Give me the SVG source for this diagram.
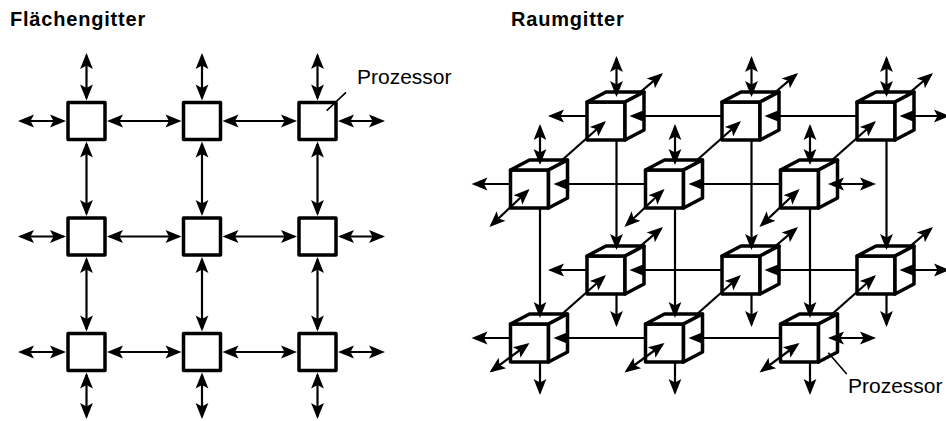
<svg xmlns="http://www.w3.org/2000/svg" width="946" height="421" viewBox="0 0 946 421">
<defs>
<style>
.title{font-family:"Liberation Sans",Arial,sans-serif;font-weight:bold;font-size:20px;letter-spacing:0.8px;fill:#000}
.label{font-family:"Liberation Sans",Arial,sans-serif;font-size:21px;fill:#000}
.box{fill:#fff;stroke:#000;stroke-width:3.5;stroke-linejoin:round}
.c line{stroke:#000;stroke-width:2.2;fill:none}
.dbl{marker-start:url(#ah);marker-end:url(#ah)}
.end{marker-end:url(#ah)}
.start{marker-start:url(#ah)}
.lead{stroke:#000;stroke-width:1.6}
</style>
<marker id="ah" viewBox="-15 -8 18 16" markerWidth="18" markerHeight="16" refX="0" refY="0" orient="auto-start-reverse" markerUnits="userSpaceOnUse" overflow="visible">
<path d="M2.5,0 L-13.5,-6.4 L-10,0 L-13.5,6.4 Z" fill="#000"/>
</marker>
<g id="cube" fill="#fff" stroke="#000" stroke-width="3.5" stroke-linejoin="round">
<rect x="-19" y="-19" width="38" height="38"/>
<path d="M-19,-19 L0,-29 L38,-29 L19,-19 Z"/>
<path d="M19,-19 L38,-29 L38,9 L19,19 Z"/>
</g>
</defs>
<rect width="946" height="421" fill="#fff"/>

<text class="title" x="10" y="26">Flächengitter</text>
<text class="title" x="511" y="26">Raumgitter</text>

<!-- 2D grid connectors -->
<g id="connectors-2d" class="c">
<line class="dbl" x1="20.5" y1="121" x2="63.5" y2="121"/>
<line class="dbl" x1="109.5" y1="121" x2="179" y2="121"/>
<line class="dbl" x1="225" y1="121" x2="294.5" y2="121"/>
<line class="dbl" x1="340.5" y1="121" x2="382.5" y2="121"/>
<line class="dbl" x1="20.5" y1="236.5" x2="63.5" y2="236.5"/>
<line class="dbl" x1="109.5" y1="236.5" x2="179" y2="236.5"/>
<line class="dbl" x1="225" y1="236.5" x2="294.5" y2="236.5"/>
<line class="dbl" x1="340.5" y1="236.5" x2="382.5" y2="236.5"/>
<line class="dbl" x1="20.5" y1="352" x2="63.5" y2="352"/>
<line class="dbl" x1="109.5" y1="352" x2="179" y2="352"/>
<line class="dbl" x1="225" y1="352" x2="294.5" y2="352"/>
<line class="dbl" x1="340.5" y1="352" x2="382.5" y2="352"/>
<line class="dbl" x1="86.5" y1="55.5" x2="86.5" y2="98"/>
<line class="dbl" x1="86.5" y1="144" x2="86.5" y2="213.5"/>
<line class="dbl" x1="86.5" y1="259.5" x2="86.5" y2="329"/>
<line class="dbl" x1="86.5" y1="375" x2="86.5" y2="416.5"/>
<line class="dbl" x1="202" y1="55.5" x2="202" y2="98"/>
<line class="dbl" x1="202" y1="144" x2="202" y2="213.5"/>
<line class="dbl" x1="202" y1="259.5" x2="202" y2="329"/>
<line class="dbl" x1="202" y1="375" x2="202" y2="416.5"/>
<line class="dbl" x1="317.5" y1="55.5" x2="317.5" y2="98"/>
<line class="dbl" x1="317.5" y1="144" x2="317.5" y2="213.5"/>
<line class="dbl" x1="317.5" y1="259.5" x2="317.5" y2="329"/>
<line class="dbl" x1="317.5" y1="375" x2="317.5" y2="416.5"/>
</g>

<!-- 2D nodes -->
<g id="sq-1-1"><rect class="box" x="68" y="102.5" width="37" height="37"/></g>
<g id="sq-1-2"><rect class="box" x="183.5" y="102.5" width="37" height="37"/></g>
<g id="sq-1-3"><rect class="box" x="299" y="102.5" width="37" height="37"/></g>
<g id="sq-2-1"><rect class="box" x="68" y="218" width="37" height="37"/></g>
<g id="sq-2-2"><rect class="box" x="183.5" y="218" width="37" height="37"/></g>
<g id="sq-2-3"><rect class="box" x="299" y="218" width="37" height="37"/></g>
<g id="sq-3-1"><rect class="box" x="68" y="333.5" width="37" height="37"/></g>
<g id="sq-3-2"><rect class="box" x="183.5" y="333.5" width="37" height="37"/></g>
<g id="sq-3-3"><rect class="box" x="299" y="333.5" width="37" height="37"/></g>

<g id="label-2d">
<line class="lead" x1="326.7" y1="110.7" x2="346" y2="92.3"/>
<text class="label" x="357" y="84">Prozessor</text>
</g>

<!-- 3D: depth segments behind back cubes -->
<g id="connectors-3d-back" class="c">
<line class="end" x1="606" y1="121" x2="661.1" y2="74.6"/>
<line class="end" x1="741" y1="121" x2="796.1" y2="74.6"/>
<line class="end" x1="876" y1="121" x2="931.1" y2="74.6"/>
<line class="end" x1="606" y1="275" x2="661.1" y2="228.6"/>
<line class="end" x1="741" y1="275" x2="796.1" y2="228.6"/>
<line class="end" x1="876" y1="275" x2="931.1" y2="228.6"/>
</g>

<!-- back cubes -->
<g id="cube-bt-1" transform="translate(606,121)"><use href="#cube"/></g>
<g id="cube-bt-2" transform="translate(741,121)"><use href="#cube"/></g>
<g id="cube-bt-3" transform="translate(876,121)"><use href="#cube"/></g>
<g id="cube-bb-1" transform="translate(606,275)"><use href="#cube"/></g>
<g id="cube-bb-2" transform="translate(741,275)"><use href="#cube"/></g>
<g id="cube-bb-3" transform="translate(876,275)"><use href="#cube"/></g>

<!-- depth links front->back -->
<g id="connectors-3d-mid" class="c">
<line class="end" x1="529.5" y1="189" x2="604.1" y2="122.7"/>
<line class="end" x1="664.5" y1="189" x2="739.1" y2="122.7"/>
<line class="end" x1="799.5" y1="189" x2="874.1" y2="122.7"/>
<line class="end" x1="529.5" y1="343" x2="604.1" y2="276.7"/>
<line class="end" x1="664.5" y1="343" x2="739.1" y2="276.7"/>
<line class="end" x1="799.5" y1="343" x2="874.1" y2="276.7"/>
</g>

<!-- front cubes -->
<g id="cube-ft-1" transform="translate(529.5,189)"><use href="#cube"/></g>
<g id="cube-ft-2" transform="translate(664.5,189)"><use href="#cube"/></g>
<g id="cube-ft-3" transform="translate(799.5,189)"><use href="#cube"/></g>
<g id="cube-fb-1" transform="translate(529.5,343)"><use href="#cube"/></g>
<g id="cube-fb-2" transform="translate(664.5,343)"><use href="#cube"/></g>
<g id="cube-fb-3" transform="translate(799.5,343)"><use href="#cube"/></g>

<!-- 3D connectors on top -->
<g id="connectors-3d" class="c">
<line class="dbl" x1="616.5" y1="58.5" x2="616.5" y2="94.5"/>
<line class="dbl" x1="751.5" y1="58.5" x2="751.5" y2="94.5"/>
<line class="dbl" x1="886.5" y1="58.5" x2="886.5" y2="94.5"/>
<line class="end" x1="616.5" y1="141" x2="616.5" y2="247.5"/>
<line class="end" x1="751.5" y1="141" x2="751.5" y2="247.5"/>
<line class="end" x1="886.5" y1="141" x2="886.5" y2="247.5"/>
<line class="end" x1="587" y1="116" x2="550.5" y2="116"/>
<line class="start" x1="632" y1="116" x2="722" y2="116"/>
<line class="start" x1="767" y1="116" x2="857" y2="116"/>
<line class="dbl" x1="902" y1="116" x2="947.5" y2="116"/>
<line class="end" x1="616.5" y1="295" x2="616.5" y2="324.5"/>
<line class="end" x1="751.5" y1="295" x2="751.5" y2="324.5"/>
<line class="end" x1="886.5" y1="295" x2="886.5" y2="324.5"/>
<line class="end" x1="587" y1="270" x2="550.5" y2="270"/>
<line class="start" x1="632" y1="270" x2="722" y2="270"/>
<line class="start" x1="767" y1="270" x2="857" y2="270"/>
<line class="dbl" x1="902" y1="270" x2="947.5" y2="270"/>
<line class="dbl" x1="540" y1="126.5" x2="540" y2="162.5"/>
<line class="dbl" x1="675" y1="126.5" x2="675" y2="162.5"/>
<line class="dbl" x1="810" y1="126.5" x2="810" y2="162.5"/>
<line class="end" x1="540" y1="209" x2="540" y2="315.5"/>
<line class="end" x1="675" y1="209" x2="675" y2="315.5"/>
<line class="end" x1="810" y1="209" x2="810" y2="315.5"/>
<line class="end" x1="510.5" y1="184" x2="474" y2="184"/>
<line class="start" x1="556" y1="184" x2="645.5" y2="184"/>
<line class="start" x1="691" y1="184" x2="780.5" y2="184"/>
<line class="dbl" x1="830.5" y1="184" x2="873.5" y2="184"/>
<line class="dbl" x1="491.3" y1="225.3" x2="527.7" y2="190.7"/>
<line class="dbl" x1="626.3" y1="225.3" x2="662.7" y2="190.7"/>
<line class="dbl" x1="761.3" y1="225.3" x2="797.7" y2="190.7"/>
<line class="end" x1="540" y1="363" x2="540" y2="392.5"/>
<line class="end" x1="675" y1="363" x2="675" y2="392.5"/>
<line class="end" x1="810" y1="363" x2="810" y2="392.5"/>
<line class="end" x1="510.5" y1="338" x2="474" y2="338"/>
<line class="start" x1="556" y1="338" x2="645.5" y2="338"/>
<line class="start" x1="691" y1="338" x2="780.5" y2="338"/>
<line class="dbl" x1="830.5" y1="338" x2="873.5" y2="338"/>
<line class="dbl" x1="491.5" y1="371" x2="527.5" y2="344.5"/>
<line class="dbl" x1="626.5" y1="371" x2="662.5" y2="344.5"/>
<line class="dbl" x1="761.5" y1="371" x2="797.5" y2="344.5"/>
</g>

<g id="label-3d">
<line class="lead" x1="828.3" y1="352.7" x2="846.7" y2="374"/>
<text class="label" x="848" y="393">Prozessor</text>
</g>
</svg>
